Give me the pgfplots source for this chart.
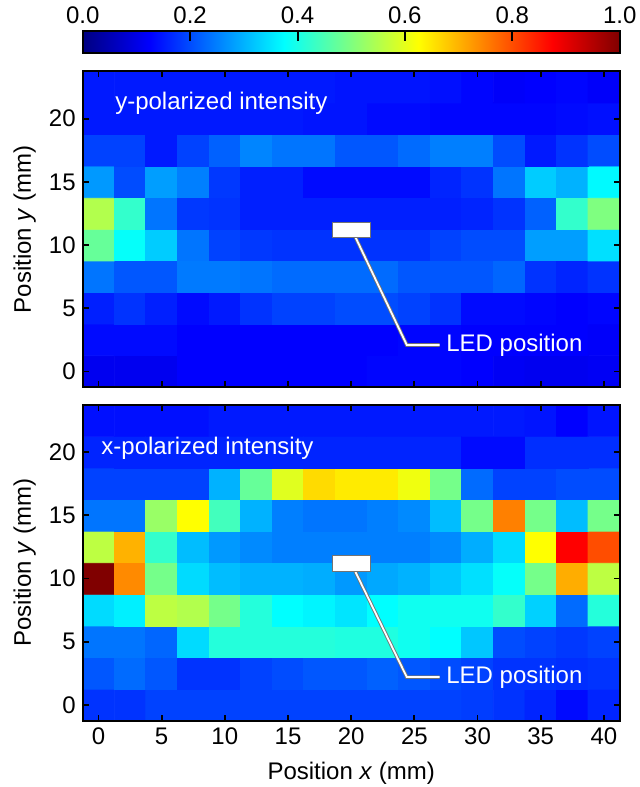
\documentclass[border=0pt]{standalone}
\usepackage{fontspec}
\setmainfont{Liberation Sans}
\usepackage{pgfplots}
\usepackage{pgfplotstable}
\pgfplotsset{compat=1.18}

\newcommand{\fs}{\fontsize{12}{14}\selectfont}

% y-polarized intensity: x (mm), y (mm), normalized intensity
\pgfplotstableread[row sep=\\]{
x y c\\
0 0 0.11\\ 2.5 0 0.11\\ 5 0 0.11\\ 7.5 0 0.125\\ 10 0 0.125\\ 12.5 0 0.125\\ 15 0 0.125\\ 17.5 0 0.125\\ 20 0 0.125\\ 22.5 0 0.13\\ 25 0 0.13\\ 27.5 0 0.13\\ 30 0 0.125\\ 32.5 0 0.115\\ 35 0 0.11\\ 37.5 0 0.11\\ 40 0 0.115\\
0 2.5 0.135\\ 2.5 2.5 0.135\\ 5 2.5 0.135\\ 7.5 2.5 0.125\\ 10 2.5 0.125\\ 12.5 2.5 0.125\\ 15 2.5 0.125\\ 17.5 2.5 0.125\\ 20 2.5 0.125\\ 22.5 2.5 0.125\\ 25 2.5 0.13\\ 27.5 2.5 0.13\\ 30 2.5 0.125\\ 32.5 2.5 0.125\\ 35 2.5 0.125\\ 37.5 2.5 0.125\\ 40 2.5 0.12\\
0 5 0.155\\ 2.5 5 0.175\\ 5 5 0.155\\ 7.5 5 0.135\\ 10 5 0.15\\ 12.5 5 0.175\\ 15 5 0.19\\ 17.5 5 0.19\\ 20 5 0.2\\ 22.5 5 0.2\\ 25 5 0.19\\ 27.5 5 0.175\\ 30 5 0.135\\ 32.5 5 0.135\\ 35 5 0.13\\ 37.5 5 0.125\\ 40 5 0.13\\
0 7.5 0.24\\ 2.5 7.5 0.21\\ 5 7.5 0.21\\ 7.5 7.5 0.245\\ 10 7.5 0.245\\ 12.5 7.5 0.24\\ 15 7.5 0.23\\ 17.5 7.5 0.23\\ 20 7.5 0.23\\ 22.5 7.5 0.23\\ 25 7.5 0.21\\ 27.5 7.5 0.21\\ 30 7.5 0.21\\ 32.5 7.5 0.225\\ 35 7.5 0.175\\ 37.5 7.5 0.16\\ 40 7.5 0.175\\
0 10 0.475\\ 2.5 10 0.38\\ 5 10 0.325\\ 7.5 10 0.24\\ 10 10 0.19\\ 12.5 10 0.18\\ 15 10 0.175\\ 17.5 10 0.175\\ 20 10 0.175\\ 22.5 10 0.175\\ 25 10 0.175\\ 27.5 10 0.19\\ 30 10 0.2\\ 32.5 10 0.2\\ 35 10 0.28\\ 37.5 10 0.28\\ 40 10 0.345\\
0 12.5 0.55\\ 2.5 12.5 0.425\\ 5 12.5 0.24\\ 7.5 12.5 0.18\\ 10 12.5 0.175\\ 12.5 12.5 0.155\\ 15 12.5 0.155\\ 17.5 12.5 0.155\\ 20 12.5 0.155\\ 22.5 12.5 0.155\\ 25 12.5 0.155\\ 27.5 12.5 0.155\\ 30 12.5 0.16\\ 32.5 12.5 0.175\\ 35 12.5 0.22\\ 37.5 12.5 0.425\\ 40 12.5 0.5\\
0 15 0.275\\ 2.5 15 0.2\\ 5 15 0.28\\ 7.5 15 0.25\\ 10 15 0.18\\ 12.5 15 0.155\\ 15 15 0.155\\ 17.5 15 0.135\\ 20 15 0.135\\ 22.5 15 0.135\\ 25 15 0.135\\ 27.5 15 0.16\\ 30 15 0.175\\ 32.5 15 0.24\\ 35 15 0.325\\ 37.5 15 0.3\\ 40 15 0.37\\
0 17.5 0.19\\ 2.5 17.5 0.19\\ 5 17.5 0.15\\ 7.5 17.5 0.19\\ 10 17.5 0.22\\ 12.5 17.5 0.255\\ 15 17.5 0.24\\ 17.5 17.5 0.24\\ 20 17.5 0.21\\ 22.5 17.5 0.21\\ 25 17.5 0.23\\ 27.5 17.5 0.25\\ 30 17.5 0.25\\ 32.5 17.5 0.2\\ 35 17.5 0.15\\ 37.5 17.5 0.175\\ 40 17.5 0.2\\
0 20 0.15\\ 2.5 20 0.15\\ 5 20 0.15\\ 7.5 20 0.15\\ 10 20 0.15\\ 12.5 20 0.15\\ 15 20 0.15\\ 17.5 20 0.145\\ 20 20 0.145\\ 22.5 20 0.135\\ 25 20 0.135\\ 27.5 20 0.13\\ 30 20 0.13\\ 32.5 20 0.13\\ 35 20 0.13\\ 37.5 20 0.135\\ 40 20 0.14\\
0 22.5 0.15\\ 2.5 22.5 0.15\\ 5 22.5 0.15\\ 7.5 22.5 0.15\\ 10 22.5 0.15\\ 12.5 22.5 0.15\\ 15 22.5 0.15\\ 17.5 22.5 0.15\\ 20 22.5 0.145\\ 22.5 22.5 0.145\\ 25 22.5 0.145\\ 27.5 22.5 0.14\\ 30 22.5 0.13\\ 32.5 22.5 0.12\\ 35 22.5 0.125\\ 37.5 22.5 0.13\\ 40 22.5 0.12\\
}\ypol

% x-polarized intensity
\pgfplotstableread[row sep=\\]{
x y c\\
0 0 0.175\\ 2.5 0 0.175\\ 5 0 0.19\\ 7.5 0 0.19\\ 10 0 0.19\\ 12.5 0 0.19\\ 15 0 0.19\\ 17.5 0 0.19\\ 20 0 0.19\\ 22.5 0 0.19\\ 25 0 0.19\\ 27.5 0 0.19\\ 30 0 0.185\\ 32.5 0 0.175\\ 35 0 0.16\\ 37.5 0 0.135\\ 40 0 0.16\\
0 2.5 0.21\\ 2.5 2.5 0.23\\ 5 2.5 0.21\\ 7.5 2.5 0.175\\ 10 2.5 0.175\\ 12.5 2.5 0.19\\ 15 2.5 0.2\\ 17.5 2.5 0.21\\ 20 2.5 0.21\\ 22.5 2.5 0.22\\ 25 2.5 0.21\\ 27.5 2.5 0.2\\ 30 2.5 0.19\\ 32.5 2.5 0.175\\ 35 2.5 0.175\\ 37.5 2.5 0.17\\ 40 2.5 0.175\\
0 5 0.24\\ 2.5 5 0.24\\ 5 5 0.225\\ 7.5 5 0.34\\ 10 5 0.41\\ 12.5 5 0.41\\ 15 5 0.41\\ 17.5 5 0.41\\ 20 5 0.405\\ 22.5 5 0.405\\ 25 5 0.39\\ 27.5 5 0.375\\ 30 5 0.32\\ 32.5 5 0.2\\ 35 5 0.19\\ 37.5 5 0.18\\ 40 5 0.19\\
0 7.5 0.34\\ 2.5 7.5 0.36\\ 5 7.5 0.56\\ 7.5 7.5 0.55\\ 10 7.5 0.49\\ 12.5 7.5 0.41\\ 15 7.5 0.375\\ 17.5 7.5 0.365\\ 20 7.5 0.35\\ 22.5 7.5 0.375\\ 25 7.5 0.39\\ 27.5 7.5 0.39\\ 30 7.5 0.39\\ 32.5 7.5 0.425\\ 35 7.5 0.33\\ 37.5 7.5 0.23\\ 40 7.5 0.41\\
0 10 1.0\\ 2.5 10 0.74\\ 5 10 0.49\\ 7.5 10 0.34\\ 10 10 0.31\\ 12.5 10 0.3\\ 15 10 0.3\\ 17.5 10 0.295\\ 20 10 0.275\\ 22.5 10 0.29\\ 25 10 0.3\\ 27.5 10 0.32\\ 30 10 0.345\\ 32.5 10 0.38\\ 35 10 0.49\\ 37.5 10 0.705\\ 40 10 0.56\\
0 12.5 0.56\\ 2.5 12.5 0.7\\ 5 12.5 0.425\\ 7.5 12.5 0.31\\ 10 12.5 0.275\\ 12.5 12.5 0.26\\ 15 12.5 0.25\\ 17.5 12.5 0.25\\ 20 12.5 0.25\\ 22.5 12.5 0.25\\ 25 12.5 0.25\\ 27.5 12.5 0.26\\ 30 12.5 0.295\\ 32.5 12.5 0.34\\ 35 12.5 0.625\\ 37.5 12.5 0.875\\ 40 12.5 0.8\\
0 15 0.24\\ 2.5 15 0.24\\ 5 15 0.525\\ 7.5 15 0.625\\ 10 15 0.44\\ 12.5 15 0.3\\ 15 15 0.25\\ 17.5 15 0.24\\ 20 15 0.24\\ 22.5 15 0.25\\ 25 15 0.26\\ 27.5 15 0.31\\ 30 15 0.49\\ 32.5 15 0.75\\ 35 15 0.49\\ 37.5 15 0.31\\ 40 15 0.49\\
0 17.5 0.19\\ 2.5 17.5 0.19\\ 5 17.5 0.19\\ 7.5 17.5 0.19\\ 10 17.5 0.3\\ 12.5 17.5 0.475\\ 15 17.5 0.595\\ 17.5 17.5 0.66\\ 20 17.5 0.645\\ 22.5 17.5 0.645\\ 25 17.5 0.61\\ 27.5 17.5 0.49\\ 30 17.5 0.23\\ 32.5 17.5 0.19\\ 35 17.5 0.19\\ 37.5 17.5 0.2\\ 40 17.5 0.2\\
0 20 0.16\\ 2.5 20 0.16\\ 5 20 0.16\\ 7.5 20 0.16\\ 10 20 0.16\\ 12.5 20 0.16\\ 15 20 0.16\\ 17.5 20 0.16\\ 20 20 0.16\\ 22.5 20 0.16\\ 25 20 0.16\\ 27.5 20 0.16\\ 30 20 0.135\\ 32.5 20 0.135\\ 35 20 0.17\\ 37.5 20 0.17\\ 40 20 0.17\\
0 22.5 0.14\\ 2.5 22.5 0.14\\ 5 22.5 0.14\\ 7.5 22.5 0.14\\ 10 22.5 0.15\\ 12.5 22.5 0.15\\ 15 22.5 0.15\\ 17.5 22.5 0.15\\ 20 22.5 0.15\\ 22.5 22.5 0.15\\ 25 22.5 0.15\\ 27.5 22.5 0.15\\ 30 22.5 0.15\\ 32.5 22.5 0.15\\ 35 22.5 0.145\\ 37.5 22.5 0.125\\ 40 22.5 0.145\\
}\xpol

\pgfplotsset{
  heat/.style={
    scale only axis, width=268.5pt, height=158pt,
    xmin=-1.25, xmax=41.25, ymin=-1.25, ymax=23.75,
    xtick={0,5,...,40}, ytick={0,5,...,20},
    tick align=inside, major tick length=3pt,
    every tick/.style={black, line width=0.9pt},
    axis line style={line width=1pt},
    axis on top,
    colormap/jet, point meta min=0, point meta max=1,
    tick label style={font=\fs}, label style={font=\fs},
    /pgf/number format/assume math mode=true,
    ylabel={Position \textit{y} (mm)},
    ylabel style={at={(axis description cs:-0.108,0.5)}, anchor=center},
  },
}
\tikzset{note/.style={anchor=west, text=white, font=\fs, inner sep=0pt}}

\begin{document}
\begin{tikzpicture}

% top panel: y-polarized
\begin{axis}[heat,
  at={(0,166.7pt)}, anchor=south west,
  xticklabels={},
  colorbar horizontal,
  colorbar shift/.style={yshift=9.2pt},
  colorbar style={
    at={(parent axis.north west)}, anchor=south west,
    width=268.5pt, height=10.8pt,
    xtick={0,0.2,...,1}, ytick=\empty,
    xtick pos=right, xticklabel pos=right,
    tick align=inside, major tick length=3pt,
    axis line style={line width=1pt},
    axis on top,
    xticklabel style={font=\fs, /pgf/number format/.cd, fixed, fixed zerofill, precision=1, assume math mode=true},
  },
]
\addplot[matrix plot*, mesh/cols=17, point meta=explicit] table[meta=c] {\ypol};
\node[note] at (axis cs:1.3,21.2) {y-polarized intensity};
\draw[black!55, line width=1.8pt] (axis cs:20.3,10.7) -- (axis cs:24.4,2.1) -- (axis cs:27.0,2.1);
\draw[white, line width=0.9pt] (axis cs:20.3,10.7) -- (axis cs:24.4,2.1) -- (axis cs:27.0,2.1);
\draw[fill=white, draw=black!55, line width=0.5pt] (axis cs:18.5,10.6) rectangle (axis cs:21.5,11.8);
\node[note] at (axis cs:27.5,2.1) {LED position};
\end{axis}

% bottom panel: x-polarized
\begin{axis}[heat,
  at={(0,0)}, anchor=south west,
  xlabel={Position \textit{x} (mm)},
  xlabel style={at={(axis description cs:0.5,-0.165)}, anchor=center},
]
\addplot[matrix plot*, mesh/cols=17, point meta=explicit] table[meta=c] {\xpol};
\node[note] at (axis cs:0.2,20.3) {x-polarized intensity};
\draw[black!55, line width=1.8pt] (axis cs:20.3,10.6) -- (axis cs:24.4,2.2) -- (axis cs:27.0,2.2);
\draw[white, line width=0.9pt] (axis cs:20.3,10.6) -- (axis cs:24.4,2.2) -- (axis cs:27.0,2.2);
\draw[fill=white, draw=black!55, line width=0.5pt] (axis cs:18.5,10.55) rectangle (axis cs:21.5,11.8);
\node[note] at (axis cs:27.5,2.2) {LED position};
\end{axis}

% tick marks hanging from the top edge of the colour bar
\draw[black, line width=1pt] (53.7pt,344.2pt) -- (53.7pt,340pt)
  (107.4pt,344.2pt) -- (107.4pt,340pt)
  (161.1pt,344.2pt) -- (161.1pt,340pt)
  (214.8pt,344.2pt) -- (214.8pt,340pt);

\pgfresetboundingbox
\useasboundingbox (-41.35pt,-33.15pt) rectangle (278.15pt,360.35pt);
\end{tikzpicture}
\end{document}
